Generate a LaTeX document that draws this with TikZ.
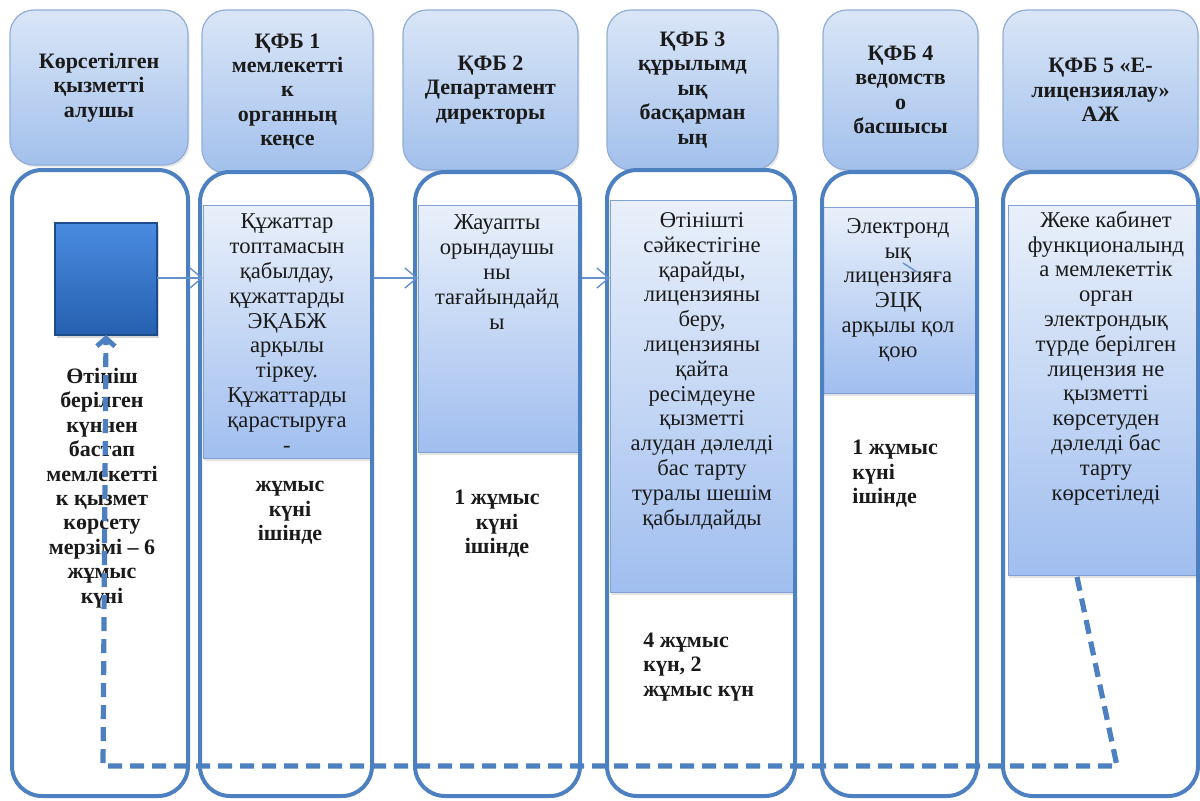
\documentclass[tikz,border=0pt]{standalone}
\usepackage{fontspec}
\setmainfont{Liberation Serif}
\usetikzlibrary{arrows.meta,shadows}
\definecolor{laneblue}{HTML}{4D80C0}
\definecolor{hdrtop}{HTML}{DAE6F7}
\definecolor{hdrbot}{HTML}{A2C0EC}
\definecolor{hdredge}{HTML}{92AED6}
\definecolor{boxtop}{HTML}{E9F0FA}
\definecolor{boxbot}{HTML}{A0BEEF}
\definecolor{boxedge}{HTML}{7FA1D3}
\definecolor{sqtop}{HTML}{4A8BE0}
\definecolor{sqbot}{HTML}{2660B0}
\definecolor{sqedge}{HTML}{1D4C8A}
\definecolor{thinarrow}{HTML}{6490CC}
\definecolor{txt}{HTML}{1A1A1A}
\begin{document}
\begin{tikzpicture}[x=0.5pt,y=-0.5pt,
  hdr/.style={anchor=north west,inner sep=0pt,outer sep=0pt,rounded corners=12pt,
    draw=hdredge,line width=0.6pt,top color=hdrtop,bottom color=hdrbot,
    drop shadow={opacity=0.18,shadow xshift=0.8pt,shadow yshift=-1.2pt},
    align=center,text=txt,font=\bfseries\fontsize{11}{12.2}\selectfont},
  lanebox/.style={anchor=north west,inner sep=0pt,outer sep=0pt,rounded corners=15pt,
    fill=white},
  laneline/.style={draw=laneblue,line width=2pt,rounded corners=15pt},
  cbox/.style={anchor=north west,inner sep=0pt,outer sep=0pt,draw=boxedge,line width=0.5pt,
    top color=boxtop,bottom color=boxbot,
    drop shadow={opacity=0.22,shadow xshift=0.6pt,shadow yshift=-1.6pt}},
  ctext/.style={align=center,inner sep=0pt,text=txt,font=\fontsize{11.3}{12.4}\selectfont},
  btext/.style={align=center,inner sep=0pt,text=txt,font=\bfseries\fontsize{11}{12.2}\selectfont},
  bltext/.style={align=left,inner sep=0pt,text=txt,font=\bfseries\fontsize{11}{12.2}\selectfont},
  flow/.style={draw=thinarrow,line width=0.7pt,-{Straight Barb[length=6pt,width=10pt]}},
  backline/.style={draw=laneblue,line width=2.6pt,dash pattern=on 7pt off 4pt,
    -{Straight Barb[length=4pt,width=9pt,line width=2.4pt]}}
]
\useasboundingbox (0,0) rectangle (1200,800);

% headers
\node[hdr,minimum width=89pt,minimum height=77.5pt] (h1) at (10,10) {Көрсетілген\\қызметті\\алушы};
\node[hdr,minimum width=85.5pt,minimum height=81.5pt] (h2) at (202,10) {ҚФБ 1\\мемлекетті\\к\\органның\\кеңсе};
\node[hdr,minimum width=87.5pt,minimum height=80pt] (h3) at (403,10) {ҚФБ 2\\Департамент\\директоры};
\node[hdr,minimum width=85.5pt,minimum height=80pt] (h4) at (607,10) {ҚФБ 3\\құрылымд\\ық\\басқарман\\ың};
\node[hdr,minimum width=77.5pt,minimum height=80pt] (h5) at (823,10) {ҚФБ 4\\ведомств\\о\\басшысы};
\node[hdr,minimum width=97.5pt,minimum height=80pt] (h6) at (1003,10) {ҚФБ 5 «Е-\\лицензиялау»\\АЖ};

% lanes (white fill)
\node[lanebox,minimum width=88pt,minimum height=313pt] (l1) at (12,170) {};
\node[lanebox,minimum width=86pt,minimum height=312pt] (l2) at (200,172) {};
\node[lanebox,minimum width=82.5pt,minimum height=312pt] (l3) at (415,172) {};
\node[lanebox,minimum width=94pt,minimum height=313pt] (l4) at (607,170) {};
\node[lanebox,minimum width=77.5pt,minimum height=312pt] (l5) at (822,172) {};
\node[lanebox,minimum width=97.5pt,minimum height=312pt] (l6) at (1003,172) {};

% content boxes
\node[cbox,minimum width=84.5pt,minimum height=126.5pt] (c2) at (203,205) {};
\node[cbox,minimum width=81pt,minimum height=123.5pt] (c3) at (418,205) {};
\node[cbox,minimum width=92.5pt,minimum height=196pt] (c4) at (610,200) {};
\node[cbox,minimum width=76.5pt,minimum height=93pt] (c5) at (822,207) {};
\node[cbox,minimum width=96pt,minimum height=185pt] (c6) at (1008,205) {};

% lane borders on top
\foreach \l in {l1,l2,l3,l4,l5,l6}{
  \draw[laneline] (\l.north west) rectangle (\l.south east);
}

% content texts
\node[ctext] (t2) at (287,333) {Құжаттар\\топтамасын\\қабылдау,\\құжаттарды\\ЭҚАБЖ\\арқылы\\тіркеу.\\Құжаттарды\\қарастыруға\\-};
\node[ctext] (t3) at (497,272) {Жауапты\\орындаушы\\ны\\тағайындайд\\ы};
\node[ctext] (t4) at (702,371) {Өтінішті\\сәйкестігіне\\қарайды,\\лицензияны\\беру,\\лицензияны\\қайта\\ресімдеуне\\қызметті\\алудан дәлелді\\бас тарту\\туралы шешім\\қабылдайды};
\node[ctext] (t5) at (898,290) {Электронд\\ық\\лицензияға\\ЭЦҚ\\арқылы қол\\қою};
\node[ctext] (t6) at (1106,358) {Жеке кабинет\\функционалынд\\а мемлекеттік\\орган\\электрондық\\түрде берілген\\лицензия не\\қызметті\\көрсетуден\\дәлелді бас\\тарту\\көрсетіледі};

% bold time texts
\node[btext] (b1) at (102,488) {Өтініш\\берілген\\күннен\\бастап\\мемлекетті\\к қызмет\\көрсету\\мерзімі – 6\\жұмыс\\күні};
\node[btext] (b2) at (290,513) {жұмыс\\күні\\ішінде};
\node[btext] (b3) at (497,524) {1 жұмыс\\күні\\ішінде};
\node[bltext,anchor=west] (b4) at (643,667) {4 жұмыс\\күн, 2\\жұмыс күн};
\node[bltext,anchor=west] (b5) at (852,474) {1 жұмыс\\күні\\ішінде};

% start square
\node[anchor=north west,inner sep=0pt,outer sep=0pt,minimum width=51pt,minimum height=56pt,
  draw=sqedge,line width=0.6pt,top color=sqtop,bottom color=sqbot,
  drop shadow={opacity=0.3,shadow xshift=1pt,shadow yshift=-1.5pt}] (sq) at (55,223) {};

% flow arrows
\coordinate (a1) at (157,278);
\draw[flow] (a1) -- (a1 -| c2.west);
\coordinate (a2) at (373,278);
\draw[flow] (a2) -- (a2 -| c3.west);
\coordinate (a3) at (582,278);
\draw[flow] (a3) -- (a3 -| c4.west);
\coordinate (s1) at (903,263);
\coordinate (s2) at (917,272);
\draw[draw=thinarrow,line width=0.7pt] (s1) -- (s2);

% dashed return line
\coordinate (d1) at (1077,577);
\coordinate (d2) at (1117,766);
\coordinate (d3) at (103,766);
\draw[backline] (d1) -- (d2) -- (d3) -- (sq.south);
\end{tikzpicture}
\end{document}
